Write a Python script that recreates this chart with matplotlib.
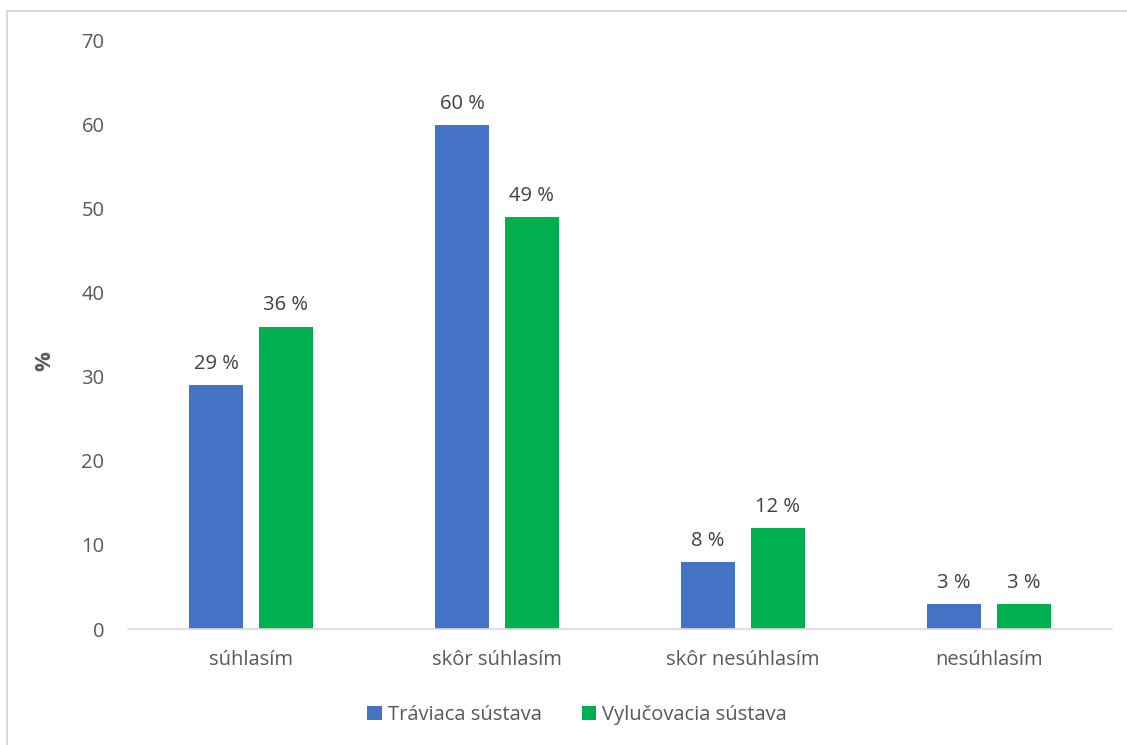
import numpy as np
import matplotlib.pyplot as plt
from matplotlib.patches import Rectangle

categories = ['súhlasím', 'skôr súhlasím', 'skôr nesúhlasím', 'nesúhlasím']
traviaca = [29, 60, 8, 3]
vylucovacia = [36, 49, 12, 3]
series_names = ['Tráviaca sústava', 'Vylučovacia sústava']
yticks = [0, 10, 20, 30, 40, 50, 60, 70]

plt.rcParams['font.family'] = ['Open Sans', 'DejaVu Sans']
text_color = '#595959'

fig = plt.figure(figsize=(11.27, 7.45), dpi=100)
ax = fig.add_axes([0.1136, 0.1557, 0.873, 0.7893])

x = np.arange(len(categories))
w = 0.22
b1 = ax.bar(x - 0.142, traviaca, w, color='#4472C4', label=series_names[0])
b2 = ax.bar(x + 0.142, vylucovacia, w, color='#00B050', label=series_names[1])

for bars in (b1, b2):
    for r in bars:
        ax.annotate(f'{r.get_height():g} %', (r.get_x() + r.get_width() / 2, r.get_height()),
                    xytext=(0, 8), textcoords='offset points', ha='center', va='bottom',
                    fontsize=14.5, color='#404040')

ax.set_xlim(-0.5, len(categories) - 0.5)
ax.set_ylim(0, 70)
ax.set_yticks(yticks)
ax.set_xticks(x)
ax.set_xticklabels(categories)
ax.tick_params(axis='both', length=0, labelsize=14.5, colors=text_color)
ax.tick_params(axis='y', pad=17)
ax.tick_params(axis='x', pad=15)
for s in ['top', 'right', 'left']:
    ax.spines[s].set_visible(False)
ax.spines['bottom'].set_color('#d9d9d9')
ax.spines['bottom'].set_linewidth(1.2)

fig.text(0.04, 0.515, '%', rotation=90, ha='center', va='center',
         fontsize=16, fontweight='bold', color=text_color)

fig.legend(loc='center', bbox_to_anchor=(0.512, 0.04), ncol=2, frameon=False,
           fontsize=14.5, handlelength=0.7, handleheight=0.7, handletextpad=0.3,
           columnspacing=2.0, labelcolor=text_color)

fig.patches.append(Rectangle((7 / 1127, -0.1), 1.2, 1 - 11 / 745 + 0.1,
                             transform=fig.transFigure, fill=False,
                             edgecolor='#d9d9d9', linewidth=1.5))

fig.savefig('out.png', dpi=100)
